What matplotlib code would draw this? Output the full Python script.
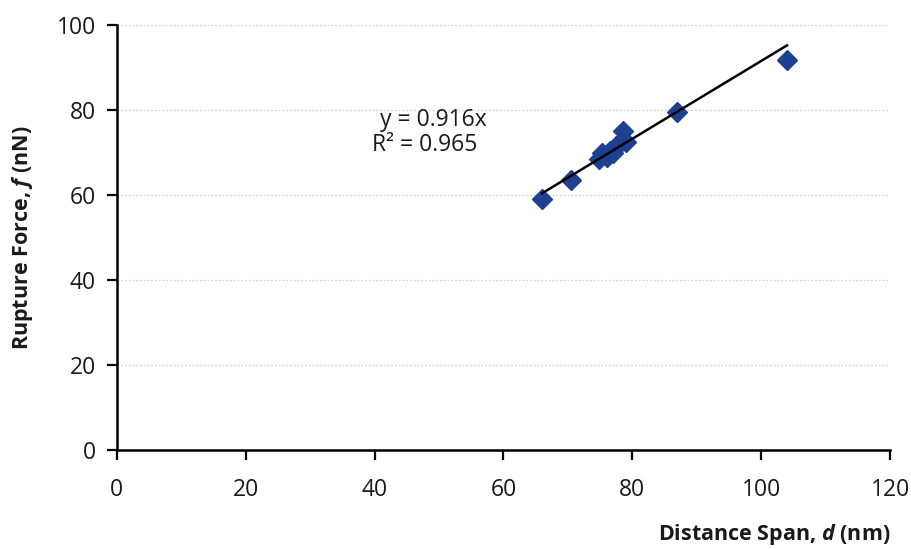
import matplotlib
matplotlib.use("Agg")
import matplotlib.pyplot as plt
import numpy as np

plt.rcParams['font.family'] = ['Open Sans', 'DejaVu Sans']
plt.rcParams['mathtext.fontset'] = 'custom'
plt.rcParams['mathtext.rm'] = 'Open Sans'
plt.rcParams['mathtext.it'] = 'Open Sans:italic'
plt.rcParams['mathtext.bf'] = 'Open Sans:bold'
plt.rcParams['mathtext.bfit'] = 'Open Sans:bold:italic'

distance = [66.0, 70.5, 74.8, 75.3, 76.0, 76.5, 77.0, 77.5, 78.0, 78.5, 79.0, 87.0, 104.0]
force = [59.0, 63.5, 68.5, 70.0, 69.0, 70.5, 70.0, 71.5, 72.0, 75.0, 72.5, 79.5, 91.8]
slope = 0.916
r_squared = 0.965
x_ticks = [0, 20, 40, 60, 80, 100, 120]
y_ticks = [0, 20, 40, 60, 80, 100]

fig = plt.figure(figsize=(9.12, 5.49), dpi=100)
ax = fig.add_axes([0.128, 0.180, 0.848, 0.774])

for yt in y_ticks[1:]:
    ax.axhline(yt, color='#d4d4d4', lw=0.9, ls=(0, (1.5, 1.5)), zorder=0)

ax.plot(distance, force, ls='none', marker='D', ms=10, color='#1d4190',
        markeredgecolor='#1d4190', zorder=3)
xf = np.array([min(distance), max(distance)])
ax.plot(xf, slope * xf, color='black', lw=1.8, zorder=4)

ax.text(40.8, 77.6, f"y = {slope}x", fontsize=16.5, va='center', ha='left', color='#1a1a1a')
ax.text(39.6, 71.8, f"R² = {r_squared}", fontsize=16.5, va='center', ha='left', color='#1a1a1a')

ax.set_xlim(0, 120)
ax.set_ylim(0, 100)
ax.set_xticks(x_ticks)
ax.set_yticks(y_ticks)
for s in ['top', 'right']:
    ax.spines[s].set_visible(False)
for s in ['left', 'bottom']:
    ax.spines[s].set_linewidth(1.8)
    ax.spines[s].set_color('black')
ax.tick_params(axis='both', direction='out', length=7, width=1.6, labelsize=16.5,
               labelcolor='#1a1a1a')
ax.tick_params(axis='x', pad=13)
ax.tick_params(axis='y', pad=8)

fig.text(0.976, 0.026, "Distance Span, $\\bfit{d}$ (nm)", ha='right', va='center',
         fontsize=15.5, fontweight='bold', color='#1a1a1a')
fig.text(0.025, 0.567, "Rupture Force, $\\bfit{f}$ (nN)", ha='center', va='center',
         rotation=90, fontsize=15.5, fontweight='bold', color='#1a1a1a')

fig.savefig("out.png", dpi=100)
